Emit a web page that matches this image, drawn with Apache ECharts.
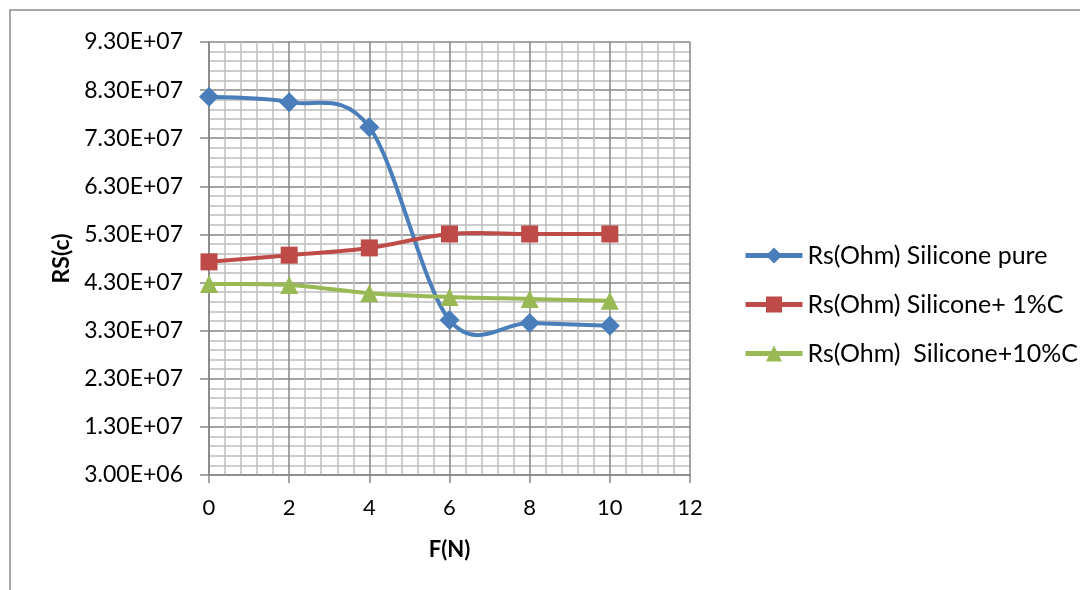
<!DOCTYPE html>
<html><head><meta charset="utf-8">
<script src="https://cdn.jsdelivr.net/npm/echarts@6/dist/echarts.min.js"></script>
<style>html,body{margin:0;padding:0;background:#fff}#c{width:1080px;height:590px}</style>
</head><body><div id="c"></div>
<script>
const forces = [0, 2, 4, 6, 8, 10];
const pure = [8.16e7, 8.05e7, 7.53e7, 3.52e7, 3.46e7, 3.40e7];
const c1 = [4.73e7, 4.87e7, 5.02e7, 5.31e7, 5.31e7, 5.31e7];
const c10 = [4.27e7, 4.25e7, 4.08e7, 4.00e7, 3.96e7, 3.92e7];
const names = ['Rs(Ohm) Silicone pure', 'Rs(Ohm) Silicone+ 1%C', 'Rs(Ohm)  Silicone+10%C'];
const colors = ['#4a7ebb', '#be4b48', '#98b954'];

function fmt(v){
  const e = Math.floor(Math.log10(Math.abs(v)) + 1e-9);
  const m = v / Math.pow(10, e);
  return m.toFixed(2) + 'E+' + (e < 10 ? '0' + e : e);
}
const font = 'Lato, "Open Sans", sans-serif';
const chart = echarts.init(document.getElementById('c'));

// Smoothed line (Catmull-Rom style, as in spreadsheet smoothed lines) drawn through the axis scales
const curve = (vals, color) => ({
  type: 'custom', silent: true, z: 2,
  data: forces.map((f, i) => [f, vals[i]]),
  encode: {x: 0, y: 1},
  renderItem: (params, api) => {
    const i = params.dataIndex, n = forces.length;
    if (i >= n - 1) return null;
    const P = k => api.coord([forces[Math.max(0, Math.min(n - 1, k))], vals[Math.max(0, Math.min(n - 1, k))]]);
    const p0 = P(i - 1), p1 = P(i), p2 = P(i + 1), p3 = P(i + 2);
    return {
      type: 'bezierCurve',
      shape: {
        x1: p1[0], y1: p1[1], x2: p2[0], y2: p2[1],
        cpx1: p1[0] + (p2[0] - p0[0]) / 6, cpy1: p1[1] + (p2[1] - p0[1]) / 6,
        cpx2: p2[0] - (p3[0] - p1[0]) / 6, cpy2: p2[1] - (p3[1] - p1[1]) / 6
      },
      style: {stroke: color, lineWidth: 4, fill: 'none', lineCap: 'round'}
    };
  }
});
const mk = (name, data, color, symbol, size) => ({
  name, type: 'line', z: 3, data: forces.map((f, i) => [f, data[i]]),
  symbol, symbolSize: size,
  lineStyle: {color, width: 4, opacity: 0}, itemStyle: {color}
});
chart.setOption({
  animation: false,
  graphic: [{type: 'polyline', shape: {points: [[10, 590], [10, 10], [1080, 10]]}, style: {stroke: '#8c8c8c', lineWidth: 1.5, fill: null}}],
  grid: {left: 209, right: 390, top: 42, bottom: 115},
  legend: {
    orient: 'vertical', left: 738, top: 238, itemGap: 24, itemWidth: 57, itemHeight: 20,
    lineStyle: {opacity: 1, width: 5},
    textStyle: {fontFamily: font, fontSize: 25, color: '#000'},
    data: names
  },
  xAxis: {
    type: 'value', min: 0, max: 12, interval: 2,
    name: 'F(N)', nameLocation: 'middle', nameGap: 64,
    nameTextStyle: {fontFamily: font, fontSize: 22, fontWeight: 'bold', color: '#000'},
    axisLine: {lineStyle: {color: '#868686', width: 1.5}},
    axisTick: {show: true, length: 8, lineStyle: {color: '#868686', width: 1.5}},
    axisLabel: {fontFamily: font, fontSize: 22, color: '#000', margin: 22},
    splitLine: {show: true, lineStyle: {color: '#868686', width: 1.5}},
    minorTick: {show: false, splitNumber: 5},
    minorSplitLine: {show: true, lineStyle: {color: '#bdbdbd', width: 1.5}}
  },
  yAxis: {
    type: 'value', min: 3e6, max: 9.3e7, interval: 1e7,
    name: 'RS(c)', nameLocation: 'middle', nameGap: 136, nameRotate: 90,
    nameTextStyle: {fontFamily: font, fontSize: 23, fontWeight: 'bold', color: '#000'},
    axisLine: {show: true, lineStyle: {color: '#868686', width: 1.5}},
    axisTick: {show: true, length: 9, lineStyle: {color: '#868686', width: 1.5}},
    axisLabel: {fontFamily: font, fontSize: 23, color: '#000', margin: 26, formatter: fmt},
    splitLine: {show: true, lineStyle: {color: '#868686', width: 1.5}},
    minorTick: {show: false, splitNumber: 5},
    minorSplitLine: {show: true, lineStyle: {color: '#bdbdbd', width: 1.5}}
  },
  series: [
    curve(pure, colors[0]), curve(c1, colors[1]), curve(c10, colors[2]),
    mk(names[0], pure, colors[0], 'diamond', 20),
    mk(names[1], c1, colors[1], 'rect', 17),
    mk(names[2], c10, colors[2], 'triangle', 18)
  ]
});
</script></body></html>
